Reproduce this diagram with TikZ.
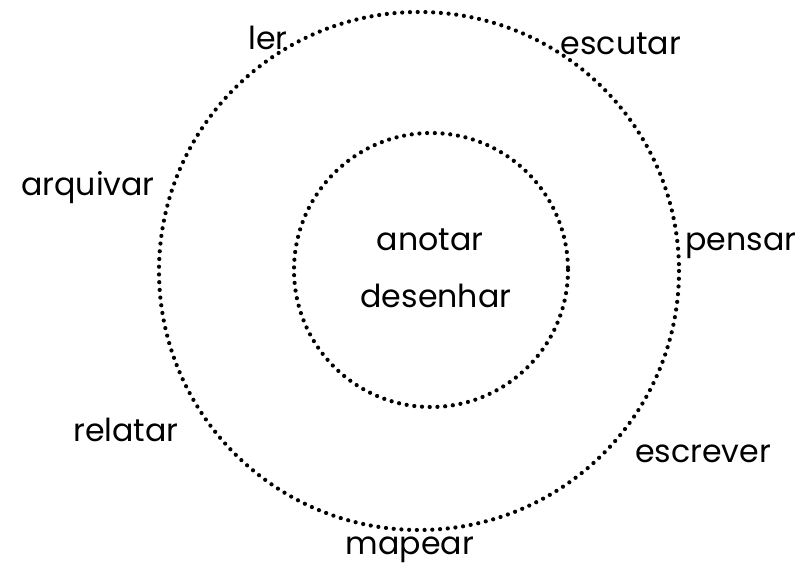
\documentclass[tikz,border=0pt]{standalone}
\usepackage{fontspec}
\setmainfont{Poppins}
\usetikzlibrary{positioning}

\begin{document}
\begin{tikzpicture}[x=0.03cm, y=-0.03cm, % one unit = one pixel of the sketch
                    ring/.style={line width=3.6pt, dash pattern=on 0pt off 6.6pt, line cap=round},
                    word/.style={font=\fontsize{27}{31}\selectfont, inner sep=1pt}]
                    \useasboundingbox (0,0) rectangle (801,571);

                    % the two dotted rings
                    \draw[ring] (419,271) circle[x radius=260, y radius=259];
                    \draw[ring] (431,270) circle[radius=137];

                    % inner activities
                    \node[word] (anotar) at (430,240) {anotar};
                    \node[word] (desenhar) at (436,296) {desenhar};

                    % outer activities
                    \node[word] (ler) at (268,38) {ler};
                    \node[word] (escutar) at (621,44) {escutar};
                    \node[word] (arquivar) at (88,188) {arquivar};
                    \node[word] (pensar) at (741,246) {pensar};
                    \node[word] (relatar) at (126,430) {relatar};
                    \node[word] (escrever) at (703,454) {escrever};
                    \node[word] (mapear) at (410,550) {mapear};
\end{tikzpicture}
\end{document}
